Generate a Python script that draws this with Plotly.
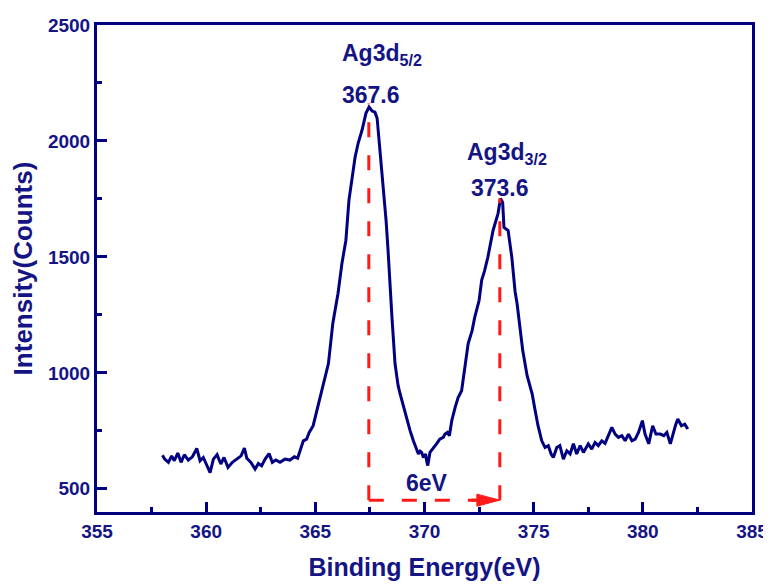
import plotly.graph_objects as go

# Binding energy (eV) and intensity (counts)
energy = [358.0, 358.1, 358.27, 358.42, 358.54, 358.7, 358.85, 359.0, 359.18, 359.37,
          359.57, 359.72, 359.87, 360.02, 360.18, 360.33, 360.5, 360.67, 360.82, 361.0,
          361.2, 361.4, 361.6, 361.75, 361.86, 362.05, 362.24, 362.39, 362.54, 362.7,
          362.88, 363.03, 363.19, 363.38, 363.61, 363.84, 364.04, 364.19, 364.34, 364.45,
          364.6, 364.72, 364.9, 365.1, 365.35, 365.6, 365.8, 366.04, 366.22, 366.31,
          366.4, 366.54, 366.73, 366.82, 366.96, 367.14, 367.32, 367.46, 367.6, 367.73,
          367.83, 367.96, 368.1, 368.24, 368.33, 368.42, 368.51, 368.65, 368.79, 368.88,
          369.02, 369.1, 369.25, 369.34, 369.49, 369.64, 369.72, 369.8, 369.87, 369.95,
          370.05, 370.1, 370.15, 370.25, 370.4, 370.55, 370.7, 370.86, 370.94, 371.05,
          371.14, 371.25, 371.4, 371.54, 371.7, 371.86, 372.0, 372.18, 372.3, 372.5,
          372.62, 372.75, 372.9, 373.14, 373.37, 373.48, 373.58, 373.64, 373.75, 373.83,
          374.0, 374.15, 374.24, 374.38, 374.5, 374.7, 374.93, 375.07, 375.2, 375.37,
          375.52, 375.67, 375.8, 375.9, 376.06, 376.2, 376.36, 376.52, 376.67, 376.82,
          376.97, 377.13, 377.28, 377.5, 377.66, 377.81, 377.96, 378.12, 378.27, 378.42,
          378.58, 378.73, 378.88, 379.04, 379.19, 379.34, 379.5, 379.65, 379.8, 379.98,
          380.1, 380.27, 380.45, 380.6, 380.8, 380.96, 381.1, 381.26, 381.37, 381.49,
          381.6, 381.77, 381.92, 382.06]
counts = [645, 628, 614, 642, 621, 654, 614, 647, 624, 638,
          674, 621, 635, 607, 570, 628, 647, 607, 635, 592,
          614, 628, 642, 676, 632, 614, 585, 609, 599, 628,
          652, 614, 624, 614, 628, 624, 638, 632, 678, 707,
          714, 743, 772, 850, 953, 1040, 1213, 1343, 1473, 1529,
          1572, 1745, 1865, 1930, 1990, 2047, 2120, 2146, 2129, 2124,
          2098, 1960, 1809, 1658, 1529, 1356, 1239, 1040, 946, 910,
          860, 825, 782, 751, 707, 671, 650, 662, 657, 635,
          650, 620, 600, 657, 678, 694, 714, 722, 736, 743,
          729, 794, 850, 893, 923, 1023, 1126, 1182, 1239, 1312,
          1400, 1440, 1498, 1614, 1688, 1752, 1735, 1627, 1620, 1614,
          1498, 1350, 1299, 1200, 1096, 988, 910, 837, 772, 707,
          678, 686, 650, 635, 678, 686, 628, 664, 650, 694,
          650, 686, 657, 694, 671, 700, 686, 707, 696, 729,
          765, 736, 722, 729, 707, 736, 707, 714, 743, 794,
          736, 694, 772, 736, 736, 729, 743, 694, 736, 772,
          801, 772, 779, 758]

# Peak markers (drawn position, label, top of guide line)
peak_x = [367.45, 373.45]
peak_top = [2162, 1752]
peak_labels = ["367.6", "373.6"]
peak_names = ["Ag3d<sub>5/2</sub>", "Ag3d<sub>3/2</sub>"]
split_label = "6eV"
arrow_y = 451

x_ticks = [355, 360, 365, 370, 375, 380, 385]
y_ticks = [500, 1000, 1500, 2000, 2500]

NAVY = "#000080"
TXT = "#141485"
RED = "#ff1a1a"
FONT = "Liberation Sans, Arial, sans-serif"

fig = go.Figure()
fig.add_trace(go.Scatter(x=energy, y=counts, mode="lines",
                         line=dict(color=NAVY, width=3), showlegend=False,
                         hoverinfo="skip"))

shapes = []
for px_, top in zip(peak_x, peak_top):
    shapes.append(dict(type="line", xref="x", yref="y", x0=px_, x1=px_,
                       y0=arrow_y, y1=top,
                       line=dict(color=RED, width=3, dash="15px,18px")))
head_len = 1.05
head_half = 26
shapes.append(dict(type="line", xref="x", yref="y", x0=peak_x[0], x1=peak_x[1] - head_len,
                   y0=arrow_y, y1=arrow_y,
                   line=dict(color=RED, width=3, dash="15px,18px")))
shapes.append(dict(type="path", xref="x", yref="y",
                   path=f"M {peak_x[1]-head_len},{arrow_y-head_half} L {peak_x[1]},{arrow_y} "
                        f"L {peak_x[1]-head_len},{arrow_y+head_half} Z",
                   fillcolor=RED, line=dict(color=RED, width=1)))
shapes.append(dict(type="line", xref="x", yref="y", x0=peak_x[1] - head_len - 0.25,
                   x1=peak_x[1] - head_len, y0=arrow_y, y1=arrow_y,
                   line=dict(color=RED, width=3)))

ann_font = dict(family=FONT, size=23, color=TXT, weight="bold")
annotations = [
    dict(x=368.05, y=2372, text=peak_names[0], showarrow=False, font=ann_font,
         xanchor="center", yanchor="middle"),
    dict(x=367.55, y=2198, text=peak_labels[0], showarrow=False, font=ann_font,
         xanchor="center", yanchor="middle"),
    dict(x=373.78, y=1945, text=peak_names[1], showarrow=False, font=ann_font,
         xanchor="center", yanchor="middle"),
    dict(x=373.46, y=1796, text=peak_labels[1], showarrow=False, font=ann_font,
         xanchor="center", yanchor="middle"),
    dict(x=370.12, y=527, text=split_label, showarrow=False, font=ann_font,
         xanchor="center", yanchor="middle"),
]

axis_common = dict(showgrid=False, zeroline=False, showline=True, linecolor=NAVY,
                   linewidth=3, mirror=True, ticks="inside", ticklen=10, tickwidth=3,
                   tickcolor=NAVY, automargin=False,
                   tickfont=dict(family=FONT, size=19, color=TXT, weight="bold"))

# the page adds an 8px body margin, so the figure is sized to sit inside the window
fig.update_layout(
    width=763, height=577,
    margin=dict(l=89, r=19, t=17, b=73),
    paper_bgcolor="white", plot_bgcolor="white",
    shapes=shapes, annotations=annotations,
    xaxis=dict(range=[355, 385], tickvals=x_ticks, ticktext=[str(v) for v in x_ticks],
               minor=dict(ticks="inside", ticklen=5, tickwidth=3, tickcolor=NAVY, dtick=2.5),
               title=dict(text="Binding Energy(eV)", standoff=18,
                          font=dict(family=FONT, size=25, color=TXT, weight="bold")),
               **axis_common),
    yaxis=dict(range=[400, 2500], tickvals=y_ticks, ticktext=[str(v) for v in y_ticks],
               minor=dict(ticks="inside", ticklen=5, tickwidth=3, tickcolor=NAVY,
                          tickvals=[750, 1250, 1750, 2250]),
               title=dict(text="Intensity(Counts)", standoff=12,
                          font=dict(family=FONT, size=26, color=TXT, weight="bold")),
               **axis_common),
)

fig.write_html("out.html")
